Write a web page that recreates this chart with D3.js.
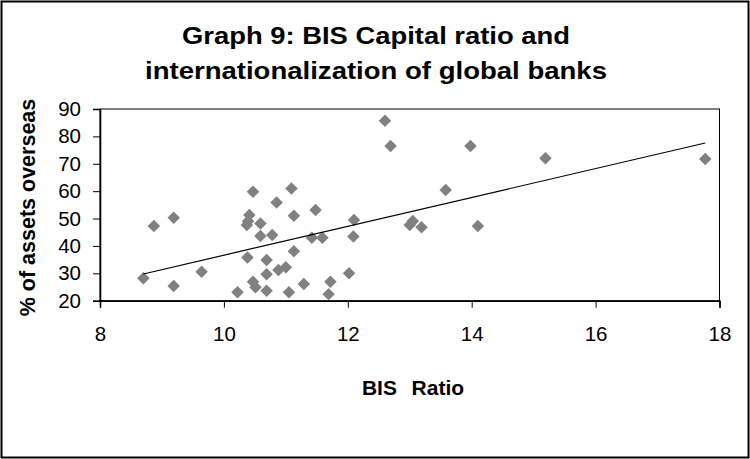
<!DOCTYPE html>
<html>
<head>
<meta charset="utf-8">
<script src="https://cdn.jsdelivr.net/npm/d3@7"></script>
<style>
  body { margin: 0; background: #fff; }
  svg { display: block; font-family: "Liberation Sans", Arial, sans-serif; }
</style>
</head>
<body>
<div id="chart"></div>
<script>
// chart data
var titleLines = ['Graph 9: BIS Capital ratio and', 'internationalization of global banks'];
var xTitle = 'BIS  Ratio';
var yTitle = '% of assets overseas';
var xTicks = [8, 10, 12, 14, 16, 18];
var yTicks = [20, 30, 40, 50, 60, 70, 80, 90];

var bisRatio = [8.70, 8.87, 9.19, 9.19, 9.64, 10.22, 10.38, 10.37, 10.39, 10.41,
  10.47, 10.47, 10.51, 10.59, 10.59, 10.69, 10.69, 10.69, 10.78, 10.85,
  10.88, 11.00, 11.05, 11.09, 11.13, 11.13, 11.29, 11.42, 11.48, 11.59,
  11.72, 11.69, 12.02, 12.10, 12.09, 12.60, 12.69, 13.00, 13.05, 13.19,
  13.58, 13.98, 14.10, 15.19, 17.77];
var assetsOverseas = [28.2, 47.3, 50.3, 25.4, 30.6, 23.1, 35.8, 47.6, 49.0, 51.3,
  59.8, 26.9, 24.9, 48.2, 43.6, 34.9, 29.7, 23.6, 44.0, 55.9,
  31.2, 32.2, 23.1, 61.0, 51.0, 38.1, 26.1, 43.0, 53.1, 43.0,
  26.9, 22.4, 30.0, 49.5, 43.4, 85.7, 76.5, 47.6, 49.1, 46.8,
  60.4, 76.5, 47.3, 72.0, 71.7];

var width = 750;
var height = 459;
var plot = {left: 100, right: 719.5, top: 109, bottom: 300.7};

var points = bisRatio.map(function(x, i) { return {x: x, y: assetsOverseas[i]}; });

// linear trend (least squares), like the excel trendline
var mx = d3.mean(bisRatio);
var my = d3.mean(assetsOverseas);
var slope = d3.sum(points, function(d) { return (d.x - mx) * (d.y - my); }) /
            d3.sum(points, function(d) { return (d.x - mx) * (d.x - mx); });
var icpt = my - slope * mx;
var xExt = d3.extent(bisRatio);
var trend = xExt.map(function(x) { return {x: x, y: icpt + slope * x}; });

var x = d3.scaleLinear().domain([8, 18]).range([plot.left, plot.right]);
var y = d3.scaleLinear().domain([20, 90]).range([plot.bottom, plot.top]);

var svg = d3.select('#chart').append('svg')
  .attr('width', width)
  .attr('height', height);

// outer frame
svg.append('rect')
  .attr('x', 1.5).attr('y', 1.5)
  .attr('width', width - 3).attr('height', height - 3)
  .attr('fill', 'none').attr('stroke', '#000').attr('stroke-width', 2);

// title
svg.append('g').selectAll('text')
  .data(titleLines).enter().append('text')
  .attr('x', 376)
  .attr('y', function(d, i) { return 43.5 + i * 35; })
  .attr('text-anchor', 'middle')
  .attr('font-size', 24)
  .attr('font-weight', 'bold')
  .attr('textLength', function(d, i) { return i === 0 ? 388 : 462; })
  .attr('lengthAdjust', 'spacingAndGlyphs')
  .text(function(d) { return d; });

// plot frame (top / right)
svg.append('rect')
  .attr('x', plot.left).attr('y', plot.top)
  .attr('width', plot.right - plot.left).attr('height', plot.bottom - plot.top)
  .attr('fill', 'none').attr('stroke', '#000').attr('stroke-width', 1);

var xAxis = svg.append('g')
  .attr('transform', 'translate(0,' + plot.bottom + ')')
  .call(d3.axisBottom(x).tickValues(xTicks).tickSize(7).tickPadding(19).tickFormat(d3.format('d')));

var yAxis = svg.append('g')
  .attr('transform', 'translate(' + plot.left + ',0)')
  .call(d3.axisLeft(y).tickValues(yTicks).tickSize(7).tickPadding(12).tickFormat(d3.format('d')));

[xAxis, yAxis].forEach(function(ax) {
  ax.select('.domain').attr('stroke', '#000').attr('stroke-width', 1.6);
  ax.selectAll('.tick line').attr('stroke', '#000');
  ax.selectAll('.tick text')
    .attr('fill', '#000')
    .attr('font-size', 20.5)
    .attr('font-family', '"Liberation Sans", Arial, sans-serif');
});

// points
var diamond = d3.symbol().type(d3.symbolSquare).size(78);
svg.append('g').selectAll('path')
  .data(points).enter().append('path')
  .attr('d', diamond)
  .attr('fill', '#808080')
  .attr('transform', function(d) {
    return 'translate(' + x(d.x) + ',' + y(d.y) + ') rotate(45)';
  });

// trendline
svg.append('path')
  .datum(trend)
  .attr('fill', 'none')
  .attr('stroke', '#000')
  .attr('stroke-width', 1.2)
  .attr('d', d3.line().x(function(d) { return x(d.x); }).y(function(d) { return y(d.y); }));

// axis titles
svg.append('text')
  .attr('x', 413)
  .attr('y', 395)
  .attr('text-anchor', 'middle')
  .attr('font-size', 21)
  .attr('font-weight', 'bold')
  .attr('word-spacing', 1.5)
  .style('white-space', 'pre')
  .text(xTitle);

svg.append('text')
  .attr('transform', 'translate(35,207.5) rotate(-90)')
  .attr('text-anchor', 'middle')
  .attr('font-size', 21.5)
  .attr('font-weight', 'bold')
  .text(yTitle);
</script>
</body>
</html>
